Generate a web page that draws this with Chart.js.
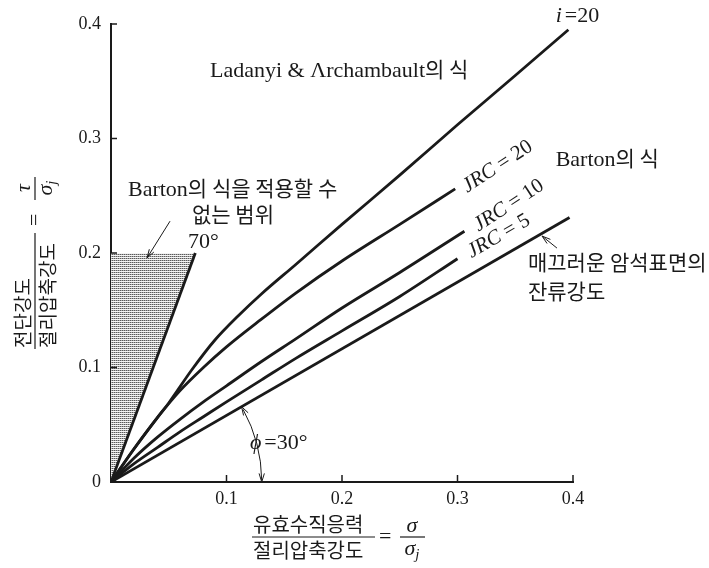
<!DOCTYPE html>
<html>
<head>
<meta charset="utf-8">
<script src="https://cdn.jsdelivr.net/npm/chart.js@4.4.0/dist/chart.umd.min.js"></script>
<style>
  body { margin: 0; background: #fff; }
  #wrap { width: 709px; height: 568px; position: relative; }
</style>
</head>
<body>
<div id="wrap"><canvas id="chart"></canvas></div>
<script>
// values (x = sigma/sigma_j, y = tau/sigma_j)
const xTicks = [0, 0.1, 0.2, 0.3, 0.4];
const yTicks = [0, 0.1, 0.2, 0.3, 0.4];

const limitX = [0, 0.073];          // 70 deg line, Barton not applicable to its left
const limitY = [0, 0.2];
const residualX = [0, 0.397];       // residual strength, phi = 30 deg
const residualY = [0, 0.231];
const jrc5X = [0, 0.02, 0.04, 0.06, 0.08, 0.1, 0.13, 0.16, 0.2, 0.25, 0.3];
const jrc5Y = [0, 0.016, 0.030, 0.044, 0.057, 0.070, 0.089, 0.108, 0.132, 0.162, 0.195];
const jrc10X = [0, 0.02, 0.04, 0.06, 0.08, 0.1, 0.13, 0.16, 0.2, 0.25, 0.306];
const jrc10Y = [0, 0.021, 0.039, 0.055, 0.070, 0.084, 0.105, 0.125, 0.152, 0.183, 0.219];
const jrc20X = [0, 0.02, 0.04, 0.06, 0.08, 0.1, 0.13, 0.16, 0.2, 0.25, 0.298];
const jrc20Y = [0, 0.029, 0.056, 0.080, 0.100, 0.118, 0.142, 0.165, 0.193, 0.225, 0.256];
const ladX = [0, 0.02, 0.04, 0.05, 0.07, 0.09, 0.11, 0.13, 0.16, 0.2, 0.25, 0.3, 0.35, 0.396];
const ladY = [0, 0.029, 0.056, 0.069, 0.098, 0.124, 0.145, 0.164, 0.19, 0.225, 0.268, 0.312, 0.355, 0.395];

const SERIF = "'Liberation Serif', 'DejaVu Serif', serif";
const KO = "'Noto Sans CJK KR', sans-serif";
const INK = "#1a1a1a";

// text notes, anchored in data units (left edge, baseline)
const notes = [
  { text: "Ladanyi & Λrchambault의 식", x: 0.0857, y: 0.354 },
  { text: "Barton의 식", x: 0.385, y: 0.2757 },
  { text: "Barton의 식을 적용할 수", x: 0.0147, y: 0.2496 },
  { text: "없는 범위", x: 0.0701, y: 0.227 },
  { text: "70°", x: 0.0667, y: 0.2043 },
  { text: "매끄러운 암석표면의", x: 0.361, y: 0.1852 },
  { text: "잔류강도", x: 0.361, y: 0.160 }
];
const jrcNotes = [
  { num: "20", x: 0.334, y: 0.2765, rot: -33 },
  { num: "10", x: 0.3437, y: 0.2426, rot: -33 },
  { num: "5", x: 0.335, y: 0.2157, rot: -30 }
];

function pts(xs, ys) {
  return xs.map((x, i) => ({ x: x, y: ys[i] }));
}

// stipple for the shaded zone
const tile = document.createElement("canvas");
tile.width = 2; tile.height = 2;
const tc = tile.getContext("2d");
tc.fillStyle = "#f4f4f4"; tc.fillRect(0, 0, 2, 2);
tc.fillStyle = "#5a5a5a"; tc.fillRect(0, 0, 1, 1);
tc.fillStyle = "#ababab"; tc.fillRect(1, 0, 1, 1);
const shade = tc.createPattern(tile, "repeat");

function isKo(ch) { return /[\u3131-\u318e\uac00-\ud7a3]/.test(ch); }

function drawMixed(ctx, text, x, y, latSize, koSize, align) {
  const runs = [];
  for (const ch of text) {
    const ko = isKo(ch);
    const last = runs[runs.length - 1];
    if (last && (last.ko === ko || ch === " ")) last.s += ch;
    else runs.push({ s: ch, ko: ko });
  }
  let w = 0;
  runs.forEach(r => {
    ctx.font = r.ko ? koSize + "px " + KO : latSize + "px " + SERIF;
    r.w = ctx.measureText(r.s).width;
    w += r.w;
  });
  let cx = align === "center" ? x - w / 2 : x;
  ctx.textAlign = "left";
  ctx.textBaseline = "alphabetic";
  runs.forEach(r => {
    ctx.font = r.ko ? koSize + "px " + KO : latSize + "px " + SERIF;
    ctx.fillText(r.s, cx, y);
    cx += r.w;
  });
  return w;
}

function head(ctx, x, y, ang, len, spread) {
  ctx.beginPath();
  ctx.moveTo(x - len * Math.cos(ang - spread), y - len * Math.sin(ang - spread));
  ctx.lineTo(x, y);
  ctx.lineTo(x - len * Math.cos(ang + spread), y - len * Math.sin(ang + spread));
  ctx.stroke();
}

function arrow(ctx, x1, y1, x2, y2) {
  ctx.beginPath();
  ctx.moveTo(x1, y1);
  ctx.lineTo(x2, y2);
  ctx.stroke();
  head(ctx, x2, y2, Math.atan2(y2 - y1, x2 - x1), 9, 0.3);
}

// sigma with italic j subscript, centred at cx
function sigmaJ(ctx, cx, base) {
  ctx.font = "italic 22px " + SERIF;
  const w1 = ctx.measureText("σ").width;
  ctx.font = "italic 15px " + SERIF;
  const w2 = ctx.measureText("j").width;
  let x = cx - (w1 + w2) / 2;
  ctx.textAlign = "left";
  ctx.font = "italic 22px " + SERIF;
  ctx.fillText("σ", x, base);
  ctx.font = "italic 15px " + SERIF;
  ctx.fillText("j", x + w1, base + 4);
}

const decor = {
  id: "decor",
  afterDraw(chart) {
    const ctx = chart.ctx;
    const xs = chart.scales.x, ys = chart.scales.y;
    const area = chart.chartArea;
    const px = v => xs.getPixelForValue(v);
    const py = v => ys.getPixelForValue(v);
    ctx.save();
    ctx.strokeStyle = INK;
    ctx.fillStyle = INK;

    // inward tick marks
    ctx.lineWidth = 1.5;
    xTicks.slice(1).forEach(v => {
      ctx.beginPath();
      ctx.moveTo(px(v), area.bottom);
      ctx.lineTo(px(v), area.bottom - 7);
      ctx.stroke();
    });
    yTicks.slice(1).forEach(v => {
      ctx.beginPath();
      ctx.moveTo(area.left, py(v));
      ctx.lineTo(area.left + 6, py(v));
      ctx.stroke();
    });

    // notes
    notes.forEach(n => drawMixed(ctx, n.text, px(n.x), py(n.y), 22, 21, "left"));

    // i = 20
    ctx.textAlign = "left";
    ctx.textBaseline = "alphabetic";
    ctx.font = "italic 22px " + SERIF;
    let ix = px(0.385), iy = py(0.4017);
    ctx.fillText("i", ix, iy);
    ix += ctx.measureText("i").width + 3;
    ctx.font = "22px " + SERIF;
    ctx.fillText("=20", ix, iy);

    // phi = 30
    ctx.font = "italic 22px " + SERIF;
    let fx = px(0.1203), fy = py(0.0287);
    ctx.fillText("ϕ", fx, fy);
    fx += ctx.measureText("ϕ").width + 3;
    ctx.font = "22px " + SERIF;
    ctx.fillText("=30°", fx, fy);

    // JRC labels along the curves
    jrcNotes.forEach(n => {
      ctx.save();
      ctx.translate(px(n.x), py(n.y));
      ctx.rotate(n.rot * Math.PI / 180);
      ctx.font = "italic 21px " + SERIF;
      const a = ctx.measureText("JRC").width;
      ctx.font = "21px " + SERIF;
      const b = ctx.measureText(" = " + n.num).width;
      const x0 = -(a + b) / 2;
      ctx.font = "italic 21px " + SERIF;
      ctx.fillText("JRC", x0, 7);
      ctx.font = "21px " + SERIF;
      ctx.fillText(" = " + n.num, x0 + a, 7);
      ctx.restore();
    });

    // pointer arrows
    ctx.lineWidth = 1;
    arrow(ctx, px(0.0511), py(0.2278), px(0.0312), py(0.1957));
    arrow(ctx, px(0.3861), py(0.2043), px(0.3732), py(0.2148));

    // angle arc for phi = 30 deg
    const ox = px(0), oy = py(0);
    const r = px(0.1305) - ox;
    const a1 = Math.atan2(py(residualY[1]) - oy, px(residualX[1]) - ox);
    ctx.beginPath();
    ctx.arc(ox, oy, r, a1 + 0.02, -0.01);
    ctx.stroke();
    head(ctx, ox + r * Math.cos(a1), oy + r * Math.sin(a1), Math.atan2(-Math.cos(a1), Math.sin(a1)), 9, 0.3);
    head(ctx, ox + r, oy, Math.PI / 2, 9, 0.3);

    // x axis title
    ctx.lineWidth = 1.2;
    const bx = 253, by = 537;
    ctx.font = "20px " + KO;
    ctx.textAlign = "left";
    ctx.fillText("유효수직응력", bx, by - 5);
    ctx.fillText("절리압축강도", bx, by + 21);
    ctx.beginPath(); ctx.moveTo(bx - 1, by); ctx.lineTo(bx + 122, by); ctx.stroke();
    ctx.font = "22px " + SERIF;
    ctx.fillText("=", 379, by + 6);
    ctx.beginPath(); ctx.moveTo(400, by); ctx.lineTo(425, by); ctx.stroke();
    ctx.font = "italic 22px " + SERIF;
    ctx.textAlign = "center";
    ctx.fillText("σ", 412, by - 5);
    sigmaJ(ctx, 412, by + 18);

    // y axis title, rotated
    ctx.save();
    ctx.translate(35, 348);
    ctx.rotate(-Math.PI / 2);
    ctx.font = "19px " + KO;
    ctx.textAlign = "left";
    ctx.fillText("전단강도", 0, -5);
    ctx.fillText("절리압축강도", 0, 20);
    ctx.beginPath(); ctx.moveTo(-1, 0); ctx.lineTo(115, 0); ctx.stroke();
    ctx.font = "22px " + SERIF;
    ctx.fillText("=", 122, 6);
    ctx.beginPath(); ctx.moveTo(148, 0); ctx.lineTo(171, 0); ctx.stroke();
    ctx.font = "italic 22px " + SERIF;
    ctx.textAlign = "center";
    ctx.fillText("τ", 160, -5);
    sigmaJ(ctx, 160, 17);
    ctx.restore();

    ctx.restore();
  }
};

const curve = (data) => ({
  data: data,
  borderColor: INK,
  borderWidth: 2.8,
  pointRadius: 0,
  fill: false,
  cubicInterpolationMode: "monotone"
});

new Chart(document.getElementById("chart"), {
  type: "line",
  data: {
    datasets: [
      {
        data: pts(limitX, limitY),
        borderColor: INK,
        borderWidth: 2.8,
        pointRadius: 0,
        backgroundColor: shade,
        fill: { value: 0.2 }
      },
      curve(pts(residualX, residualY)),
      curve(pts(jrc5X, jrc5Y)),
      curve(pts(jrc10X, jrc10Y)),
      curve(pts(jrc20X, jrc20Y)),
      curve(pts(ladX, ladY))
    ]
  },
  options: {
    responsive: true,
    maintainAspectRatio: false,
    animation: false,
    layout: { padding: { top: 24, right: 136, left: 0, bottom: 0 } },
    plugins: { legend: { display: false }, tooltip: { enabled: false } },
    scales: {
      x: {
        type: "linear",
        min: 0, max: 0.4,
        afterFit(scale) { scale.height = 86; },
        afterBuildTicks(scale) { scale.ticks = xTicks.map(v => ({ value: v })); },
        ticks: {
          padding: 6,
          color: INK,
          font: { family: SERIF, size: 18 },
          maxRotation: 0,
          callback: v => v === 0 ? "" : v.toFixed(1)
        },
        grid: { drawOnChartArea: false, drawTicks: false, color: "rgba(0,0,0,0)" },
        border: { display: true, color: INK, width: 2 }
      },
      y: {
        type: "linear",
        min: 0, max: 0.4,
        afterFit(scale) { scale.width = 111; },
        afterBuildTicks(scale) { scale.ticks = yTicks.map(v => ({ value: v })); },
        ticks: {
          padding: 10,
          color: INK,
          font: { family: SERIF, size: 18 },
          callback: v => v === 0 ? "0" : v.toFixed(1)
        },
        grid: { drawOnChartArea: false, drawTicks: false, color: "rgba(0,0,0,0)" },
        border: { display: true, color: INK, width: 2 }
      }
    }
  },
  plugins: [decor]
});
</script>
</body>
</html>
